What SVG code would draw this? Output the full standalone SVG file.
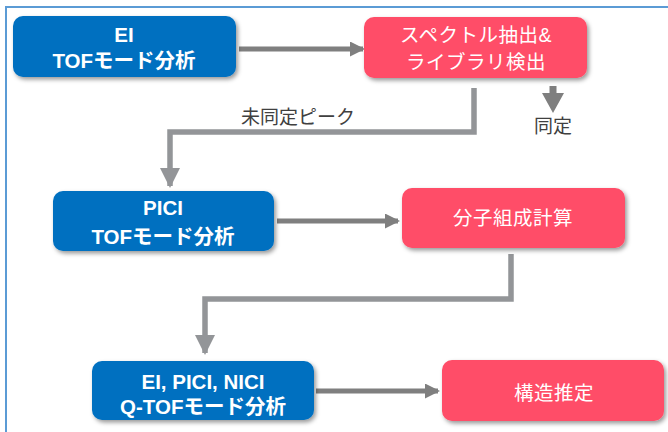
<svg xmlns="http://www.w3.org/2000/svg" width="668" height="432" viewBox="0 0 668 432">
<defs>
<filter id="sh" x="-10%" y="-20%" width="125%" height="150%">
<feDropShadow dx="2" dy="2.5" stdDeviation="2" flood-color="#000" flood-opacity="0.4"/>
</filter>
<marker id="ah" viewBox="0 0 15 15" refX="13" refY="7.5" markerWidth="15" markerHeight="15" markerUnits="userSpaceOnUse" orient="auto">
<path d="M0,0 L15,7.5 L0,15 Z" fill="#7f7f7f"/>
</marker>
<marker id="av" viewBox="0 0 20 20" refX="18" refY="10" markerWidth="20" markerHeight="20" markerUnits="userSpaceOnUse" orient="auto">
<path d="M0,0 L20,10 L0,20 Z" fill="#939598"/>
</marker>
</defs>
<style>
.blue{fill:#0070c0;filter:url(#sh)}
.pink{fill:#ff4d67;filter:url(#sh)}
.bt{font-family:"Liberation Sans","Noto Sans CJK JP",sans-serif;font-weight:bold;font-size:20.5px;fill:#fff;text-anchor:middle}
.pt{font-family:"Liberation Sans","Noto Sans CJK JP",sans-serif;font-size:19.5px;letter-spacing:0.5px;fill:#fff;text-anchor:middle}
.gt{font-family:"Liberation Sans","Noto Sans CJK JP",sans-serif;font-size:19px;fill:#404040;text-anchor:middle}
.h{stroke:#7f7f7f;stroke-width:5;fill:none}
.v{stroke:#939598;stroke-width:5.5;fill:none}
</style>
<rect width="668" height="432" fill="#fff"/>
<path d="M6,440 L6,7 L670,7" fill="none" stroke="#5b9bd5" stroke-width="2"/>

<g id="connectors">
<line class="h" x1="239" y1="49" x2="363" y2="49" marker-end="url(#ah)"/>
<polyline class="v" points="474,88 474,132 170,132 170,186" marker-end="url(#av)"/>
<path d="M549.5,86 L556.5,86 L556.5,93 L564,93 L553,113 L542,93 L549.5,93 Z" fill="#7f7f7f"/>
<line class="h" x1="277" y1="221" x2="398" y2="221" marker-end="url(#ah)"/>
<polyline class="v" points="511,254 511,299 205,299 205,353" marker-end="url(#av)"/>
<line class="h" x1="316" y1="391" x2="438" y2="391" marker-end="url(#ah)"/>
<text class="gt" x="298" y="124">未同定ピーク</text>
<text class="gt" x="553" y="133">同定</text>
</g>

<g id="n1">
<rect class="blue" x="13" y="16" width="223" height="61" rx="10"/>
<text class="bt" x="124" y="42">EI</text>
<text class="bt" x="124" y="68">TOFモード分析</text>
</g>
<g id="n2">
<rect class="pink" x="364" y="17" width="223" height="61" rx="10"/>
<text class="pt" x="476" y="42">スペクトル抽出&amp;</text>
<text class="pt" x="476" y="69">ライブラリ検出</text>
</g>
<g id="n3">
<rect class="blue" x="53" y="191" width="221" height="60" rx="10"/>
<text class="bt" x="163" y="215">PICI</text>
<text class="bt" x="163" y="244">TOFモード分析</text>
</g>
<g id="n4">
<rect class="pink" x="402" y="188" width="223" height="60" rx="10"/>
<text class="pt" x="513" y="225">分子組成計算</text>
</g>
<g id="n5">
<rect class="blue" x="92" y="361" width="222" height="59" rx="10"/>
<text class="bt" x="203" y="389">EI, PICI, NICI</text>
<text class="bt" x="203" y="414">Q-TOFモード分析</text>
</g>
<g id="n6">
<rect class="pink" x="442" y="360" width="222" height="61" rx="10"/>
<text class="pt" x="554" y="400">構造推定</text>
</g>
</svg>
